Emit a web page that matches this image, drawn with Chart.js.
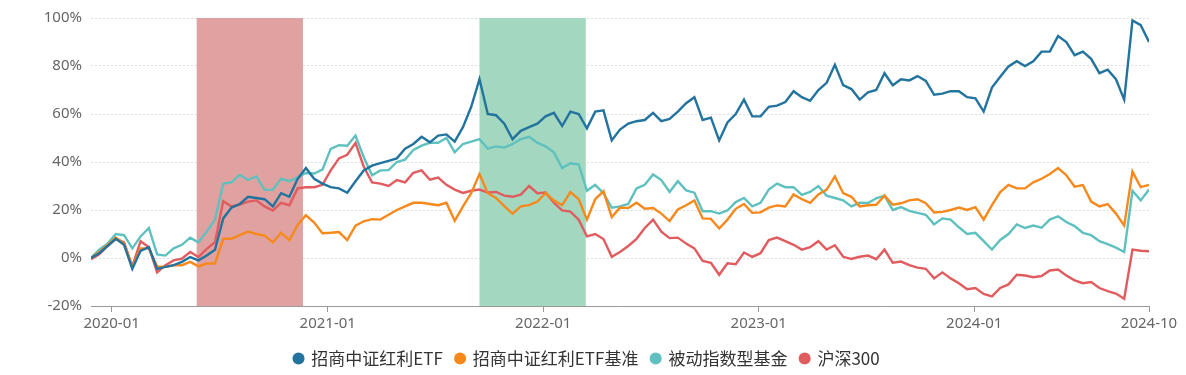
<!DOCTYPE html>
<html>
<head>
<meta charset="utf-8">
<script src="https://cdn.jsdelivr.net/npm/chart.js@4.4.1/dist/chart.umd.min.js"></script>
<style>
  html, body { margin: 0; padding: 0; background: #fff; }
  #wrap { width: 1186px; height: 375px; }
</style>
</head>
<body>
<div id="wrap"><canvas id="chart" width="1186" height="375"></canvas></div>
<script>
// one point every two weeks, starting from START_DATE
const START_DATE = '2019-11-27';
const STEP_DAYS = 14;

const SERIES_NAMES = ['招商中证红利ETF', '招商中证红利ETF基准', '被动指数型基金', '沪深300'];

// cumulative return, %
const etf = [
  0, 2, 5, 8, 5.5, -4.5, 3, 4.5, -4.5, -3.7,
  -3, -1.6, 0.4, -1, 1, 3.4, 16.5, 21, 22.5, 25.5,
  25, 24.5, 21.5, 27, 25.5, 33, 37.5, 33, 31, 29.5,
  29, 27.2, 32, 36.5, 38.5, 39.5, 40.5, 41.5, 45.5, 47.5,
  50.5, 48.2, 51, 51.5, 48.5, 54.5, 63, 74.5, 60, 59.5,
  56, 49.5, 53, 54.5, 56, 59, 60.5, 55, 61, 60,
  54, 61, 61.5, 49, 53.5, 56, 57, 57.5, 60.5, 57,
  58, 61, 64.5, 67, 57.5, 58.5, 49, 56.5, 60, 66,
  59, 59, 63, 63.5, 65, 69.5, 67, 65.5, 70, 73,
  80.5, 72, 70.4, 66, 69, 70, 77, 72, 74.5, 74,
  75.8, 73.8, 68, 68.5, 69.5, 69.5, 67, 66.5, 61, 71,
  75.5, 79.8, 82, 80, 82, 86, 86, 92.5, 90, 84.5,
  86, 83, 77, 78.5, 74.5, 66, 99, 97, 90
];

const benchmark = [
  0, 2.5, 5.5, 8.5, 6, -4, 4, 4, -3.5, -3.7,
  -3, -3, -1.6, -3.5, -2.3, -2.3, 8, 8, 9.5, 11,
  10, 9.3, 6.5, 10.5, 7.5, 13.8, 17.8, 14.8, 10.3, 10.5,
  10.8, 7.5, 13.5, 15.3, 16.2, 16, 18, 20, 21.5, 23,
  23, 22.5, 22, 23, 15.5, 21.5, 27, 35, 27, 25,
  21.6, 18.5, 21.5, 22, 23.5, 27, 24, 22, 27.5, 24.5,
  16, 24.5, 27.8, 17, 21, 20.8, 23, 20.5, 20.8, 18.5,
  15.4, 20.2, 22, 24, 16.5, 16.3, 12.3, 16, 20.5, 22.5,
  18.8, 19, 21, 21.9, 21.5, 26.5, 24.5, 23, 26.5, 28.5,
  34, 27, 25.5, 21.5, 22, 22.2, 26, 22.2, 22.8, 24,
  24.5, 22.8, 19, 19.2, 20, 21, 20, 21.2, 16, 22,
  27.5, 30.5, 29, 29, 31.5, 33, 35, 37.5, 34.5, 29.7,
  30.4, 23.5, 21.5, 22.5, 18.5, 13.5, 36, 29.5, 30.5
];

const passiveFunds = [
  0, 3.5, 6, 10, 9.5, 4, 9, 12.5, 1.5, 1,
  4, 5.5, 8.5, 6.5, 11, 16, 31, 31.5, 34.7, 32.5,
  34, 28.4, 28.5, 33, 32, 33.6, 35.4, 35.2, 36.8, 45.5,
  47, 46.8, 51, 42, 34.5, 36.5, 36.6, 40, 41, 45,
  46.8, 48, 48, 50, 44, 47.5, 48.5, 49.5, 45.6, 46.5,
  46, 47.5, 49.5, 50.5, 48, 46.5, 44, 37.5, 39.5, 39,
  28, 30.5, 27, 21, 21.5, 22.5, 29, 30.5, 34.8, 32.5,
  27.5, 32, 28.2, 27.2, 19.5, 19.5, 18.5, 19.8, 23.3, 25,
  21.5, 23, 28.5, 31, 29.5, 29.5, 26.3, 27.5, 30, 26,
  25, 24, 21.5, 23, 22.9, 24.9, 26, 20, 21.2, 19.6,
  18.8, 18, 14, 16.5, 16, 12.8, 10, 10.5, 7, 3.5,
  7.5, 10, 14, 12.5, 13.5, 12.6, 16, 17.4, 15, 13.3,
  10.5, 9.5, 7, 5.8, 4.3, 2.5, 28, 24, 28.5
];

const csi300 = [
  -0.5, 1.5, 5, 8, 6.5, -3.5, 7, 4.5, -6, -3,
  -1, -0.3, 2.5, 0.4, 3.8, 6.6, 23.7, 21.5, 22.3, 23.5,
  24, 21.5, 19.8, 23, 22, 29, 29.5, 29.5, 30.5, 36.5,
  41.5, 43, 48, 38, 31.5, 31, 30, 32.5, 31.5, 35.5,
  36.5, 32.6, 33.5, 30.5, 28.5, 27.1, 28, 28.5, 27.3, 27.5,
  26, 25.5, 26.4, 30, 27, 27.3, 23, 19.8, 19.3, 16,
  9, 10, 7.9, 0.5, 2.5, 5, 8, 12.5, 16, 11,
  8.3, 8.5, 6, 4, -1.2, -2, -7, -2.2, -2.6, 2.3,
  0.5, 2, 7.5, 8.5, 7, 5.5, 3.5, 4.5, 7, 3.5,
  5.3, 0.5, -0.4, 0.5, 1, -0.5, 3.5, -2, -1.5, -3,
  -4, -4.5, -8.5, -6, -8.5, -10.5, -13, -12.5, -15, -16,
  -12.5, -11, -7, -7.3, -8, -7.5, -5.2, -4.8, -7.3, -9.3,
  -10.5, -10, -12.5, -13.8, -14.8, -17, 3.5, 3, 2.8
];

// x axis ticks (last one is the final data date)
const TICK_DATES = ['2020-01-01', '2021-01-01', '2022-01-01', '2023-01-01', '2024-01-01', '2024-10-23'];

// shaded periods
const BAND_RANGES = [['2020-05-24', '2020-11-20'], ['2021-09-15', '2022-03-14']];
const BAND_COLORS = ['#e0a1a1', '#a4d7c0'];

const COLORS = ['#22739e', '#f7891c', '#5fc1bf', '#e05c5f'];
const TICK_FONT = { family: "'Noto Sans', 'Noto Sans CJK SC', sans-serif", size: 15 };
const LEGEND_FONT = { family: "'Noto Sans CJK SC', 'Noto Sans', sans-serif", size: 17 };

/**
 * Days between START_DATE and the given date.
 * @param {string} date - ISO date string.
 * @returns {number}
 */
function dayOffset(date) {
  return (Date.parse(date) - Date.parse(START_DATE)) / 86400000;
}

function toPoints(values) {
  return values.map((v, i) => ({ x: i * STEP_DAYS, y: v }));
}

const bandPlugin = {
  id: 'bands',
  beforeDatasetsDraw(chart) {
    const { ctx, chartArea, scales } = chart;
    ctx.save();
    BAND_RANGES.forEach(([from, to], i) => {
      const x0 = scales.x.getPixelForValue(dayOffset(from));
      const x1 = scales.x.getPixelForValue(dayOffset(to));
      ctx.fillStyle = BAND_COLORS[i];
      ctx.fillRect(x0, chartArea.top, x1 - x0, chartArea.bottom - chartArea.top);
    });
    ctx.restore();
  },
};

const allSeries = [etf, benchmark, passiveFunds, csi300];

new Chart(document.getElementById('chart').getContext('2d'), {
  type: 'line',
  data: {
    datasets: allSeries.map((values, i) => ({
      label: SERIES_NAMES[i],
      data: toPoints(values),
      borderColor: COLORS[i],
      backgroundColor: COLORS[i],
      borderWidth: 2.4,
      pointRadius: 0,
      tension: 0,
    })),
  },
  options: {
    responsive: false,
    animation: false,
    layout: { padding: { top: 14, right: 12, bottom: -2, left: 0 } },
    scales: {
      x: {
        type: 'linear',
        min: 0,
        max: (etf.length - 1) * STEP_DAYS,
        afterBuildTicks: (scale) => {
          scale.ticks = TICK_DATES.map((d) => ({ value: dayOffset(d) }));
        },
        afterFit: (scale) => { scale.height = 31; },
        ticks: {
          autoSkip: false,
          maxRotation: 0,
          padding: 3,
          color: '#666',
          font: TICK_FONT,
          callback: (value, index) => TICK_DATES[index].slice(0, 7),
        },
        grid: { drawOnChartArea: false, drawTicks: true, tickLength: 6, color: '#999' },
        border: { display: true, color: '#999' },
      },
      y: {
        min: -20,
        max: 100,
        afterFit: (scale) => { scale.width = 91; },
        ticks: {
          stepSize: 20,
          padding: 9,
          color: '#666',
          font: TICK_FONT,
          callback: (value) => value + '%',
        },
        grid: { color: '#dedede', drawTicks: false },
        border: { display: false, dash: [2, 2] },
      },
      yPad: {
        type: 'linear',
        position: 'right',
        afterFit: (scale) => { scale.width = 25; },
        ticks: { display: false },
        grid: { display: false },
        border: { display: false },
      },
    },
    plugins: {
      tooltip: { enabled: false },
      legend: {
        position: 'bottom',
        labels: {
          usePointStyle: true,
          pointStyle: 'circle',
          boxWidth: 8.5,
          boxHeight: 8.5,
          padding: 13,
          color: '#333',
          font: LEGEND_FONT,
          generateLabels: (chart) =>
            Chart.defaults.plugins.legend.labels.generateLabels(chart).map((l) => ({ ...l, lineWidth: 0 })),
        },
      },
    },
  },
  plugins: [bandPlugin],
});
</script>
</body>
</html>
